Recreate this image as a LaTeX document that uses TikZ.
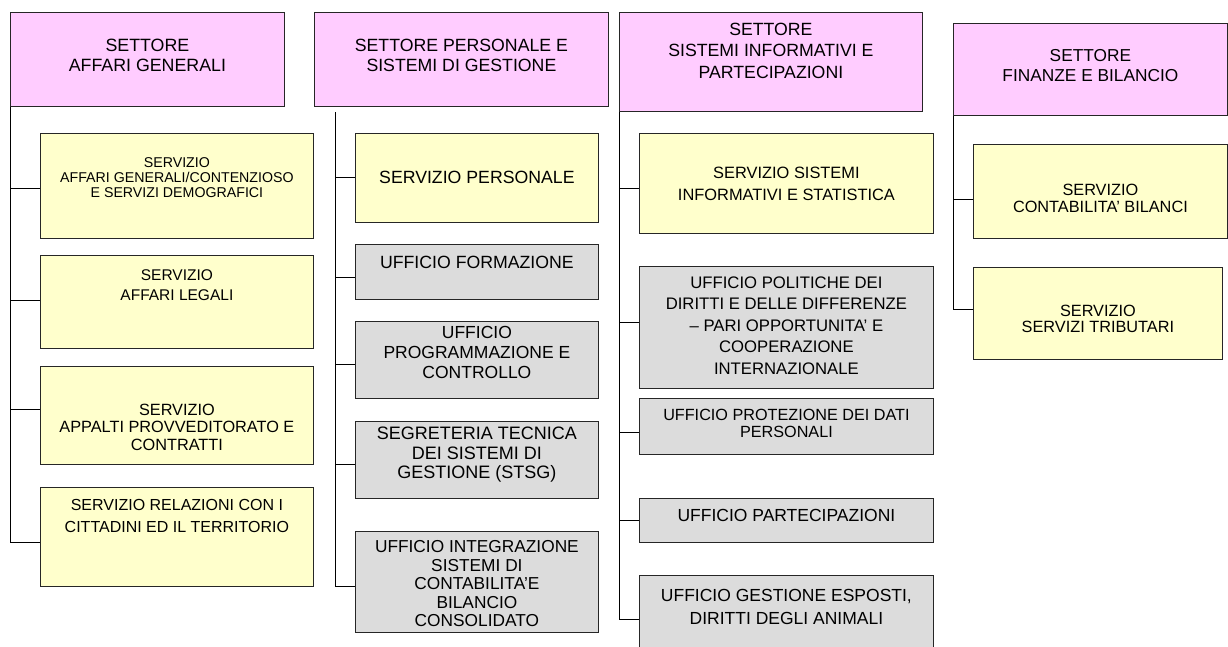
\documentclass[tikz,border=0pt]{standalone}
\usepackage{fontspec}
\setmainfont{Liberation Sans}
\definecolor{pinkc}{HTML}{FFCCFF}
\definecolor{yelc}{HTML}{FFFFCC}
\definecolor{grayc}{HTML}{DCDCDC}
\tikzset{
  boxbase/.style={draw=black!85, line width=0.8pt, inner sep=0pt, anchor=north west},
  hdr/.style={boxbase, fill=pinkc},
  ybox/.style={boxbase, fill=yelc},
  gbox/.style={boxbase, fill=grayc},
  lbl/.style={align=center, inner sep=0pt, text=black},
  conn/.style={draw=black, line width=0.8pt},
  fs/.style n args={2}{font=\fontsize{#1}{#2}\selectfont}
}
\begin{document}
\begin{tikzpicture}[x=1pt,y=-1pt]
\fill[white] (0,0) rectangle (1228,646);
\useasboundingbox (0,0) rectangle (1228,646);

% ---------- column 1 ----------
\node[hdr, minimum width=274pt, minimum height=94pt] (h1) at (10,12) {};
\node[lbl, fs={17.8}{20}] (h1t) at (h1.center |- 0,55) {SETTORE\\AFFARI GENERALI};
\node[ybox, minimum width=273pt, minimum height=105pt] (a1) at (40,133) {};
\node[lbl, fs={14.2}{15}] (a1t) at (a1.center |- 0,178) {SERVIZIO\\AFFARI GENERALI/CONTENZIOSO\\E SERVIZI DEMOGRAFICI};
\node[ybox, minimum width=273pt, minimum height=93pt] (a2) at (40,255) {};
\node[lbl, fs={15.5}{20}] (a2t) at (a2.center |- 0,285) {SERVIZIO\\AFFARI LEGALI};
\node[ybox, minimum width=273pt, minimum height=98pt] (a3) at (40,366) {};
\node[lbl, fs={16.3}{17.5}] (a3t) at (a3.center |- 0,427) {SERVIZIO\\APPALTI PROVVEDITORATO E\\CONTRATTI};
\node[ybox, minimum width=273pt, minimum height=99pt] (a4) at (40,487) {};
\node[lbl, fs={16}{22}] (a4t) at (a4.center |- 0,516) {SERVIZIO RELAZIONI CON I\\CITTADINI ED IL TERRITORIO};

\coordinate (a1c) at (a1.west |- 0,188);
\coordinate (a2c) at (a2.west |- 0,300);
\coordinate (a3c) at (a3.west |- 0,409);
\coordinate (a4c) at (a4.west |- 0,542);
\draw[conn] (h1.south west) |- (a4c);
\draw[conn] (h1.south west |- a1c) -- (a1c);
\draw[conn] (h1.south west |- a2c) -- (a2c);
\draw[conn] (h1.south west |- a3c) -- (a3c);

% ---------- column 2 ----------
\node[hdr, minimum width=294pt, minimum height=94pt] (h2) at (314,12) {};
\node[lbl, fs={17.7}{20}] (h2t) at (h2.center |- 0,55) {SETTORE PERSONALE E\\SISTEMI DI GESTIONE};
\node[ybox, minimum width=243pt, minimum height=89pt] (p1) at (355,133) {};
\node[lbl, fs={17.7}{20}] (p1t) at (p1.center |- 0,177) {SERVIZIO PERSONALE};
\node[gbox, minimum width=243pt, minimum height=55pt] (p2) at (355,244) {};
\node[lbl, fs={17.7}{20}] (p2t) at (p2.center |- 0,262) {UFFICIO FORMAZIONE};
\node[gbox, minimum width=243pt, minimum height=77pt] (p3) at (355,321) {};
\node[lbl, fs={17.5}{20}] (p3t) at (p3.center |- 0,352) {UFFICIO\\PROGRAMMAZIONE E\\CONTROLLO};
\node[gbox, minimum width=243pt, minimum height=77pt] (p4) at (355,421) {};
\node[lbl, fs={18}{19.5}] (p4t) at (p4.center |- 0,455) {SEGRETERIA TECNICA\\DEI SISTEMI DI\\GESTIONE (STSG)};
\node[gbox, minimum width=243pt, minimum height=101pt] (p5) at (355,531) {};
\node[lbl, fs={17.3}{18.5}] (p5t) at (p5.center |- 0,584) {UFFICIO INTEGRAZIONE\\SISTEMI DI\\CONTABILITA’E\\BILANCIO\\CONSOLIDATO};

\coordinate (v2top) at (335,112);
\coordinate (p1c) at (p1.west |- 0,177);
\coordinate (p2c) at (p2.west |- 0,277);
\coordinate (p3c) at (p3.west |- 0,364);
\coordinate (p4c) at (p4.west |- 0,464);
\coordinate (p5c) at (p5.west |- 0,586);
\draw[conn] (v2top) |- (p5c);
\draw[conn] (v2top |- p1c) -- (p1c);
\draw[conn] (v2top |- p2c) -- (p2c);
\draw[conn] (v2top |- p3c) -- (p3c);
\draw[conn] (v2top |- p4c) -- (p4c);

% ---------- column 3 ----------
\node[hdr, minimum width=303pt, minimum height=99pt] (h3) at (619,12) {};
\node[lbl, fs={17.7}{21.5}] (h3t) at (h3.center |- 0,50.7) {SETTORE\\SISTEMI INFORMATIVI E\\PARTECIPAZIONI};
\node[ybox, minimum width=294pt, minimum height=100pt] (s1) at (639,133) {};
\node[lbl, fs={16.4}{22}] (s1t) at (s1.center |- 0,184) {SERVIZIO SISTEMI\\INFORMATIVI E STATISTICA};
\node[gbox, minimum width=294pt, minimum height=122pt] (s2) at (639,266) {};
\node[lbl, fs={16.7}{21.5}] (s2t) at (s2.center |- 0,325.5) {UFFICIO POLITICHE DEI\\DIRITTI E DELLE DIFFERENZE\\– PARI OPPORTUNITA’ E\\COOPERAZIONE\\INTERNAZIONALE};
\node[gbox, minimum width=294pt, minimum height=56pt] (s3) at (639,398) {};
\node[lbl, fs={16.2}{17}] (s3t) at (s3.center |- 0,423.5) {UFFICIO PROTEZIONE DEI DATI\\PERSONALI};
\node[gbox, minimum width=294pt, minimum height=44pt] (s4) at (639,498) {};
\node[lbl, fs={17.5}{20}] (s4t) at (s4.center |- 0,515) {UFFICIO PARTECIPAZIONI};
\node[gbox, minimum width=294pt, minimum height=90pt] (s5) at (639,575) {};
\node[lbl, fs={17.5}{23}] (s5t) at (s5.center |- 0,606.5) {UFFICIO GESTIONE ESPOSTI,\\DIRITTI DEGLI ANIMALI};

\coordinate (s1c) at (s1.west |- 0,188);
\coordinate (s2c) at (s2.west |- 0,322);
\coordinate (s3c) at (s3.west |- 0,432);
\coordinate (s4c) at (s4.west |- 0,520);
\coordinate (s5c) at (s5.west |- 0,619);
\draw[conn] (h3.south west) |- (s5c);
\draw[conn] (h3.south west |- s1c) -- (s1c);
\draw[conn] (h3.south west |- s2c) -- (s2c);
\draw[conn] (h3.south west |- s3c) -- (s3c);
\draw[conn] (h3.south west |- s4c) -- (s4c);

% ---------- column 4 ----------
\node[hdr, minimum width=274pt, minimum height=92pt] (h4) at (953,23) {};
\node[lbl, fs={17.3}{20}] (h4t) at (h4.center |- 0,66) {SETTORE\\FINANZE E BILANCIO};
\node[ybox, minimum width=254pt, minimum height=94pt] (f1) at (973,144) {};
\node[lbl, fs={16.3}{17}] (f1t) at (f1.center |- 0,198.5) {SERVIZIO\\CONTABILITA’ BILANCI};
\node[ybox, minimum width=249pt, minimum height=92pt] (f2) at (973,267) {};
\node[lbl, fs={16.3}{16.5}] (f2t) at (f2.center |- 0,319) {SERVIZIO\\SERVIZI TRIBUTARI};

\coordinate (f1c) at (f1.west |- 0,199);
\coordinate (f2c) at (f2.west |- 0,309);
\draw[conn] (h4.south west) |- (f2c);
\draw[conn] (h4.south west |- f1c) -- (f1c);
\end{tikzpicture}
\end{document}
